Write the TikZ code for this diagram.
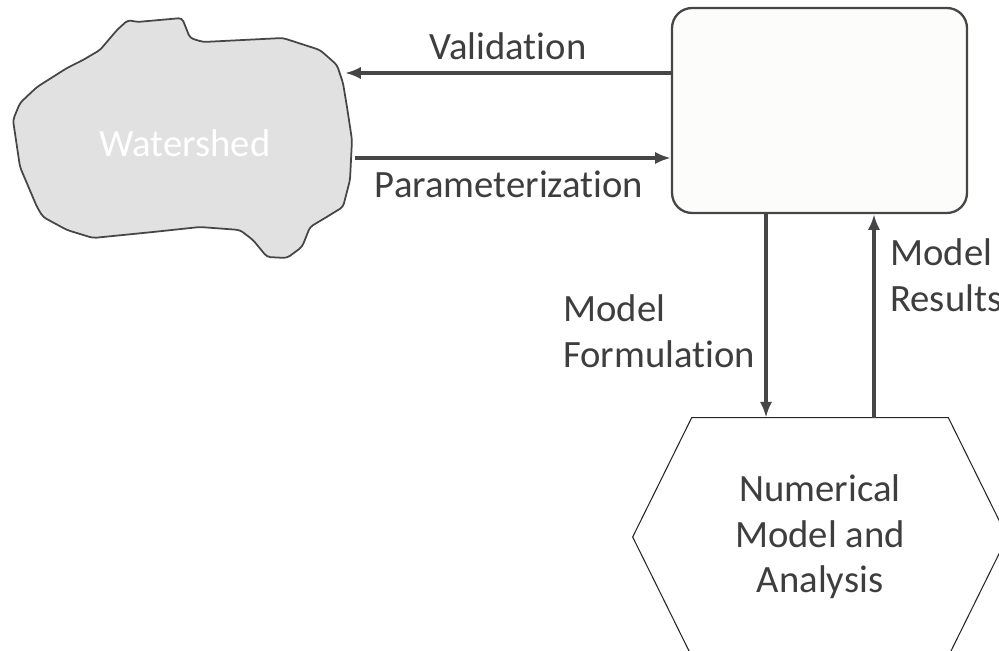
\documentclass[tikz,border=0pt]{standalone}
\usepackage{fontspec}
\setmainfont{Carlito}[Ligatures=NoCommon]
\usetikzlibrary{shapes,arrows.meta,positioning,calc}
\usepackage{xcolor}
\definecolor{txtgray}{RGB}{62,62,62}
\definecolor{arrgray}{RGB}{70,70,70}
\definecolor{shedfill}{RGB}{225,225,225}
\definecolor{boxfill}{RGB}{252,252,250}

\begin{document}
\begin{tikzpicture}[x=0.02cm, y=-0.02cm,
    every node/.style={font=\fontsize{22}{26}\selectfont, text=txtgray},
    arr/.style={-{Latex[length=9pt,width=7pt]}, line width=1.8pt, draw=arrgray},
    lbl/.style={inner sep=0pt},
    shed/.style={draw=arrgray, line width=1pt, fill=shedfill, rounded corners=2pt},
    modelbox/.style={draw=arrgray, line width=1.3pt, fill=boxfill, rounded corners=0.4cm, minimum width=5.9cm, minimum height=4.1cm},
    numbox/.style={align=center, minimum width=5.12cm, minimum height=4.76cm},
    hexline/.style={draw=black!85, line width=0.6pt}]
            \useasboundingbox (0,0) rectangle (999,651);

            % Watershed outline
            \draw[shed] (128,20) -- (137,22) -- (182,18) -- (190,38) -- (203,42) -- (283,38) -- (320,50)
                -- (337,65) -- (343,83) -- (347,107) -- (352,140) -- (350,180) -- (343,207) -- (325,218)
                -- (310,227) -- (302,247) -- (287,258) -- (267,257) -- (253,240) -- (240,230) -- (200,227)
                -- (153,232) -- (93,238) -- (67,230) -- (43,217) -- (37,207) -- (20,167) -- (13,120)
                -- (20,103) -- (37,87) -- (67,68) -- (83,60) -- (100,50) -- (117,30) -- cycle;
            \node[text=white] (shed) at (185,143) {Watershed};
            \coordinate (shedV) at (345,73);
            \coordinate (shedP) at (355,158);

            % Model box and numerical model
            \node[modelbox] (model) at (819.5,110.5) {};
            \node[numbox] (num) at (820,537) {Numerical\\Model and\\Analysis};
            \draw[hexline] (num.north west) -- (num.north east) -- ($(num.east)+(59,0)$)
                -- (num.south east) -- (num.south west) -- ($(num.west)-(59,0)$) -- cycle;
            \coordinate (formX) at (766,0);
            \coordinate (resX) at (874,0);

            % Arrows
            \draw[arr] (model.west |- shedV) -- (shedV);
            \draw[arr] (shedP) -- (model.west |- shedP);
            \draw[arr] (model.south -| formX) -- (num.north -| formX);
            \draw[arr] (num.north -| resX) -- (model.south -| resX);

            % Labels
            \node[lbl, anchor=base] (valid) at (508,60) {Validation};
            \node[lbl, anchor=base] (param) at (509,198) {Parameterization};
            \node[lbl, anchor=west, align=left] (form) at (563,331) {Model\\Formulation};
            \node[lbl, anchor=west, align=left] (res) at (890,275) {Model\\Results};
\end{tikzpicture}
\end{document}
